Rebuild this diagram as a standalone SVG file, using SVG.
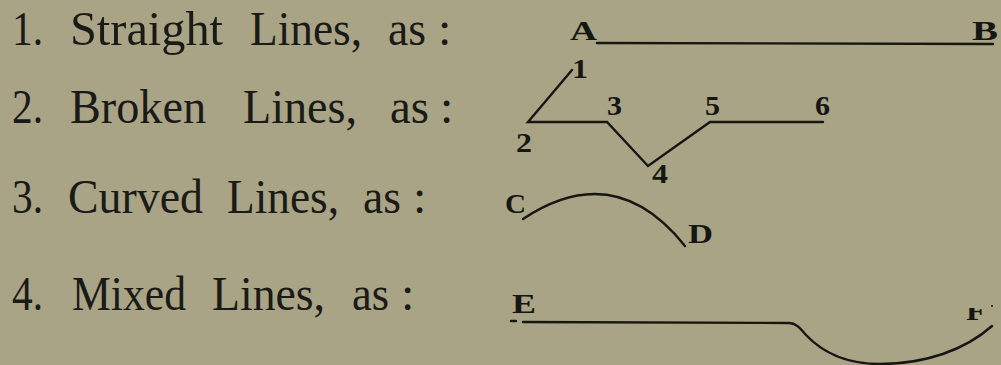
<svg xmlns="http://www.w3.org/2000/svg" width="1001" height="365" viewBox="0 0 1001 365">
<style>
.t{font-family:"Liberation Serif","Times New Roman",serif;font-size:48px;fill:#1a1a16}
.l{font-family:"Liberation Serif","Times New Roman",serif;font-size:28px;font-weight:bold;fill:#161612}
.ln{fill:none;stroke:#161612;stroke-width:2.4;stroke-linecap:round;stroke-linejoin:miter}
</style>
<defs>
<clipPath id="fclip"><rect x="955" y="308" width="40" height="20"/></clipPath>
</defs>
<rect width="1001" height="365" fill="#a9a485"/>
<g id="captions">
<g id="row1">
<text class="t" x="12" y="45" textLength="31" lengthAdjust="spacingAndGlyphs">1.</text>
<text class="t" x="70" y="45" textLength="153" lengthAdjust="spacingAndGlyphs">Straight</text>
<text class="t" x="250" y="45" textLength="112" lengthAdjust="spacingAndGlyphs">Lines,</text>
<text class="t" x="388" y="45" textLength="38" lengthAdjust="spacingAndGlyphs">as</text>
<text class="t" x="438" y="45">:</text>
</g>
<g id="row2">
<text class="t" x="12" y="123" textLength="31" lengthAdjust="spacingAndGlyphs">2.</text>
<text class="t" x="70" y="123" textLength="136" lengthAdjust="spacingAndGlyphs">Broken</text>
<text class="t" x="243" y="123" textLength="114" lengthAdjust="spacingAndGlyphs">Lines,</text>
<text class="t" x="390" y="123" textLength="39" lengthAdjust="spacingAndGlyphs">as</text>
<text class="t" x="440" y="123">:</text>
</g>
<g id="row3">
<text class="t" x="12" y="213" textLength="31" lengthAdjust="spacingAndGlyphs">3.</text>
<text class="t" x="68" y="213" textLength="135" lengthAdjust="spacingAndGlyphs">Curved</text>
<text class="t" x="227" y="213" textLength="112" lengthAdjust="spacingAndGlyphs">Lines,</text>
<text class="t" x="363" y="213" textLength="38" lengthAdjust="spacingAndGlyphs">as</text>
<text class="t" x="413" y="213">:</text>
</g>
<g id="row4">
<text class="t" x="12" y="310" textLength="31" lengthAdjust="spacingAndGlyphs">4.</text>
<text class="t" x="72" y="310" textLength="114" lengthAdjust="spacingAndGlyphs">Mixed</text>
<text class="t" x="212" y="310" textLength="113" lengthAdjust="spacingAndGlyphs">Lines,</text>
<text class="t" x="352" y="310" textLength="37" lengthAdjust="spacingAndGlyphs">as</text>
<text class="t" x="401" y="310">:</text>
</g>
</g>
<g id="connectors">
<path class="ln" d="M597,43 L993,44"/>
<path class="ln" d="M572,70 L528,122 L607,122 L648,166 L710,122 L823,122"/>
<path class="ln" d="M523,219 Q615,158 685,246"/>
<path class="ln" d="M511,321 L516,321"/>
<path class="ln" d="M523,322 L789,323 C796,323 800,328 806,335 C825,355 850,364 880,364 C925,364 965,350 992,326"/>
</g>
<g id="node-A"><text class="l" x="570" y="40" textLength="27" lengthAdjust="spacingAndGlyphs">A</text></g>
<g id="node-B"><text class="l" x="972" y="40" textLength="26" lengthAdjust="spacingAndGlyphs">B</text></g>
<g id="node-1"><text class="l" x="572" y="78" textLength="16" lengthAdjust="spacingAndGlyphs">1</text></g>
<g id="node-2"><text class="l" x="516" y="152" textLength="16" lengthAdjust="spacingAndGlyphs">2</text></g>
<g id="node-3"><text class="l" x="607" y="115" textLength="15" lengthAdjust="spacingAndGlyphs">3</text></g>
<g id="node-4"><text class="l" x="652" y="183" textLength="16" lengthAdjust="spacingAndGlyphs">4</text></g>
<g id="node-5"><text class="l" x="705" y="115" textLength="15" lengthAdjust="spacingAndGlyphs">5</text></g>
<g id="node-6"><text class="l" x="815" y="115" textLength="15" lengthAdjust="spacingAndGlyphs">6</text></g>
<g id="node-C"><text class="l" x="505" y="213" textLength="21" lengthAdjust="spacingAndGlyphs">C</text></g>
<g id="node-D"><text class="l" x="688" y="243" textLength="25" lengthAdjust="spacingAndGlyphs">D</text></g>
<g id="node-E"><text class="l" x="512" y="313" textLength="24" lengthAdjust="spacingAndGlyphs">E</text></g>
<g id="node-F"><text class="l" x="966" y="320" textLength="20" lengthAdjust="spacingAndGlyphs" clip-path="url(#fclip)">F</text><circle cx="992" cy="306" r="1" fill="#161612"/></g>
</svg>
